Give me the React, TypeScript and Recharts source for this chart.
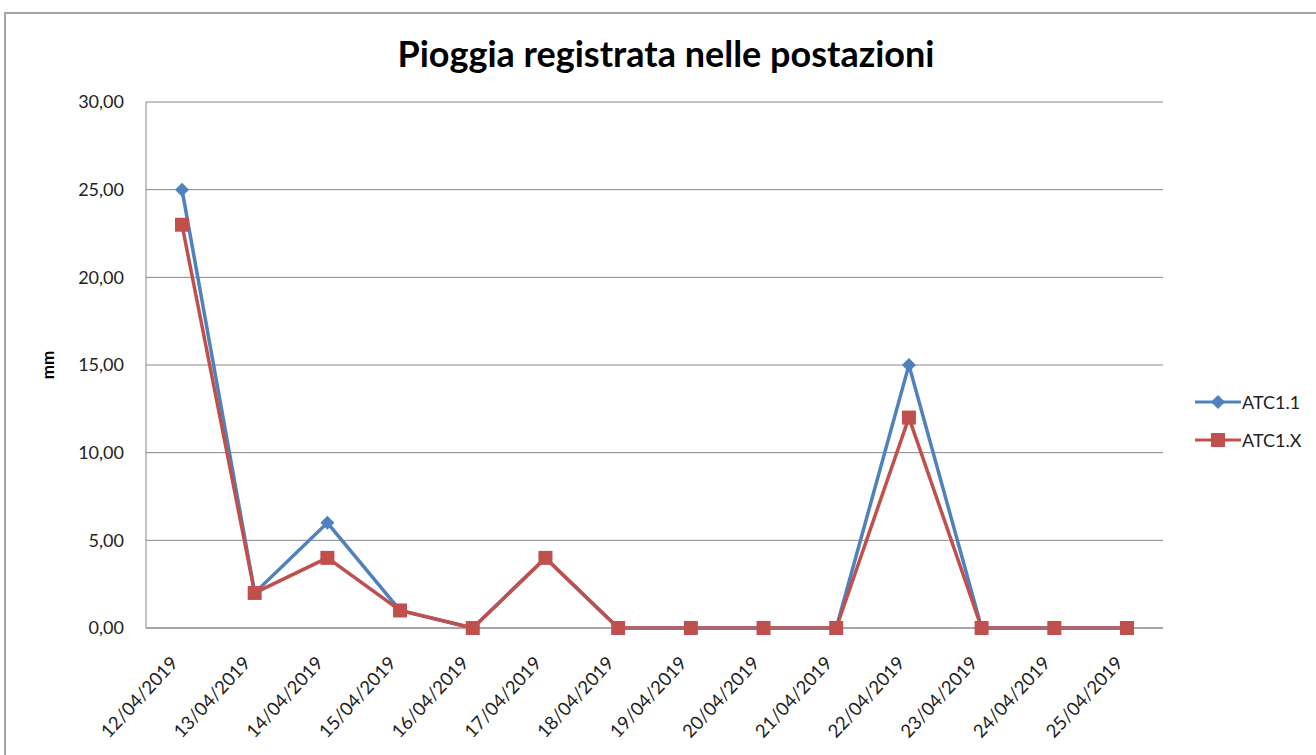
import { CartesianGrid, Legend, Line, LineChart, XAxis, YAxis } from "recharts";

const dates = [
  "12/04/2019", "13/04/2019", "14/04/2019", "15/04/2019", "16/04/2019",
  "17/04/2019", "18/04/2019", "19/04/2019", "20/04/2019", "21/04/2019",
  "22/04/2019", "23/04/2019", "24/04/2019", "25/04/2019",
];
const atc11 = [25, 2, 6, 1, 0, 4, 0, 0, 0, 0, 15, 0, 0, 0];
const atc1x = [23, 2, 4, 1, 0, 4, 0, 0, 0, 0, 12, 0, 0, 0];
const yTicks = [0, 5, 10, 15, 20, 25, 30];

const data = dates.map((d, i) => ({ date: d, a: atc11[i], x: atc1x[i] }));

const font = "Lato, 'Open Sans', sans-serif";
const fmt = (v: number) => v.toFixed(2).replace(".", ",");

function DateTick({ x, y, payload }: any) {
  const ax = x - 3;
  const ay = y + 28;
  return (
    <text
      x={ax}
      y={ay}
      transform={`rotate(-47, ${ax}, ${ay})`}
      textAnchor="end"
      fontSize={18.5}
      fontFamily={font}
      fill="#222"
    >
      {payload.value}
    </text>
  );
}

function Diamond({ cx, cy }: any) {
  const r = 7;
  return (
    <path
      d={`M${cx},${cy - r}L${cx + r},${cy}L${cx},${cy + r}L${cx - r},${cy}Z`}
      fill="#4F81BD"
    />
  );
}

function Square({ cx, cy }: any) {
  const s = 7;
  return <rect x={cx - s} y={cy - s} width={s * 2} height={s * 2} fill="#C0504D" />;
}

function LegendBox({ payload }: any) {
  return (
    <div style={{ fontFamily: font, fontSize: 18, color: "#222" }}>
      {payload.map((p: any) => (
        <div key={p.value} style={{ display: "flex", alignItems: "center", height: 38 }}>
          <svg width={46} height={18}>
            <line x1={0} y1={9} x2={46} y2={9} stroke={p.color} strokeWidth={3} />
            {p.dataKey === "a" ? (
              <Diamond cx={23} cy={9} />
            ) : (
              <Square cx={23} cy={9} />
            )}
          </svg>
          <span style={{ marginLeft: 1 }}>{p.value}</span>
        </div>
      ))}
    </div>
  );
}

export default function App() {
  return (
    <div style={{ position: "absolute", left: 0, top: 0, width: 1316, height: 755, background: "#fff", overflow: "hidden" }}>
      <div
        style={{
          position: "absolute",
          left: 4,
          top: 12,
          width: 1400,
          height: 800,
          borderLeft: "2px solid #a6a6a6",
          borderTop: "2px solid #a6a6a6",
        }}
      />
      <div
        style={{
          position: "absolute",
          left: 0,
          width: 1316,
          top: 31,
          textAlign: "center",
          fontFamily: font,
          fontWeight: 700,
          fontSize: 36,
          color: "#000",
          paddingLeft: 16,
          boxSizing: "border-box",
        }}
      >
        Pioggia registrata nelle postazioni
      </div>
      <LineChart
        width={1316}
        height={755}
        data={data}
        margin={{ top: 102, right: 43, bottom: 27, left: 86 }}
        style={{ position: "absolute", left: 0, top: 0 }}
      >
        <CartesianGrid vertical={false} stroke="#878787" strokeWidth={1} />
        <XAxis
          dataKey="date"
          interval={0}
          padding={{ left: 36, right: 36 }}
          height={100}
          tickLine={false}
          axisLine={{ stroke: "#878787" }}
          tick={<DateTick />}
        />
        <YAxis
          domain={[0, 30]}
          ticks={yTicks}
          width={60}
          tickLine={false}
          tickSize={0}
          tickMargin={22}
          tickFormatter={fmt}
          axisLine={{ stroke: "#878787" }}
          tick={{ fontSize: 18, fontFamily: font, fill: "#222" }}
          label={{
            content: () => (
              <text
                x={54}
                y={365}
                transform="rotate(-90, 54, 365)"
                textAnchor="middle"
                fontSize={17}
                fontWeight={700}
                fontFamily={font}
                fill="#000"
              >
                mm
              </text>
            ),
          }}
        />
        <Legend
          layout="vertical"
          verticalAlign="top"
          align="right"
          content={<LegendBox />}
          wrapperStyle={{ left: 1195, top: 383, width: 110 }}
        />
        <Line
          name="ATC1.1"
          dataKey="a"
          stroke="#4F81BD"
          strokeWidth={3.5}
          dot={<Diamond />}
          activeDot={false}
          isAnimationActive={false}
        />
        <Line
          name="ATC1.X"
          dataKey="x"
          stroke="#C0504D"
          strokeWidth={3.5}
          dot={<Square />}
          activeDot={false}
          isAnimationActive={false}
        />
      </LineChart>
    </div>
  );
}
